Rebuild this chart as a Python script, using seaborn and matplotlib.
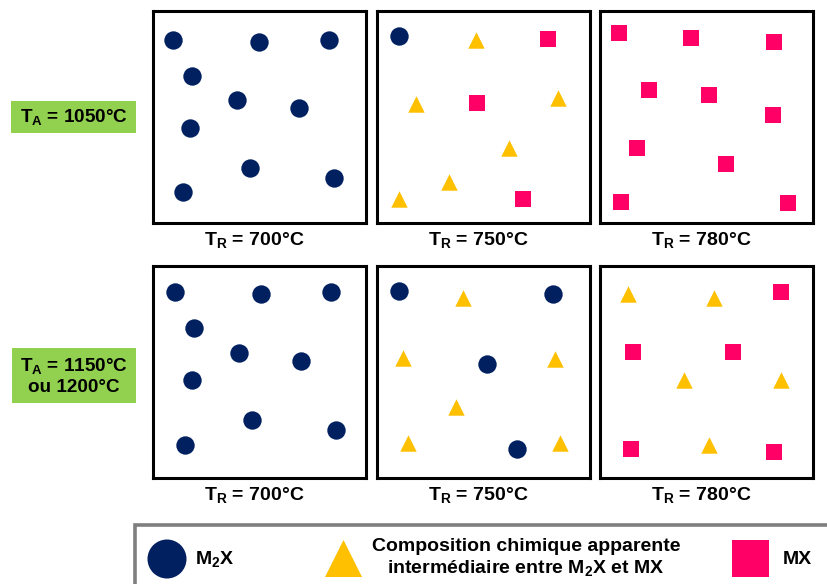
import numpy as np
import pandas as pd
import matplotlib
matplotlib.use("Agg")
import matplotlib.pyplot as plt
import matplotlib.patches as mpatches
import seaborn as sns

## data (positions in % of each panel, y measured from the top)
p1_phase = ["M2X"] * 10
p1_x = [9.2, 49.6, 82.5, 18.3, 39.3, 68.4, 17.4, 45.5, 84.8, 14.1]
p1_y = [13.7, 14.5, 13.7, 30.7, 42.0, 45.6, 55.0, 74.2, 78.8, 85.5]

p2_phase = ["M2X"] + ["INT"] * 6 + ["MX"] * 3
p2_x = [10.5, 46.3, 18.3, 85.0, 62.0, 33.8, 10.3, 80.4, 47.1, 68.7]
p2_y = [11.6, 13.7, 43.9, 41.2, 64.8, 80.8, 88.7, 13.4, 43.5, 88.7]

p3_phase = ["MX"] * 10
p3_x = [9.1, 42.9, 81.8, 23.0, 51.2, 81.4, 17.4, 59.2, 9.7, 88.3]
p3_y = [10.2, 12.6, 14.8, 37.3, 39.8, 49.2, 64.5, 72.2, 89.9, 90.4]

p4_phase = ["M2X"] * 10
p4_x = [10.2, 50.7, 83.4, 19.4, 40.4, 69.5, 18.5, 46.5, 85.9, 15.2]
p4_y = [12.4, 13.4, 12.4, 29.4, 41.2, 44.7, 53.9, 72.8, 77.5, 84.3]

p5_phase = ["M2X"] + ["INT"] * 6 + ["M2X"] * 3
p5_x = [10.3, 40.4, 12.1, 83.7, 36.9, 14.6, 85.8, 82.8, 51.8, 65.7]
p5_y = [11.8, 15.2, 43.2, 44.0, 66.4, 83.5, 83.6, 13.4, 46.1, 86.2]

p6_phase = ["INT"] * 5 + ["MX"] * 5
p6_x = [13.1, 53.5, 39.4, 84.8, 51.2, 85.0, 15.6, 62.4, 14.4, 81.8]
p6_y = [13.2, 15.0, 53.9, 53.9, 84.4, 12.3, 40.6, 40.6, 86.5, 87.7]

row_labels = ["T$_A$ = 1050°C", "T$_A$ = 1150°C\nou 1200°C"]
col_labels = ["T$_R$ = 700°C", "T$_R$ = 750°C", "T$_R$ = 780°C"]
legend_labels = ["M$_2$X",
                 "Composition chimique apparente\nintermédiaire entre M$_2$X et MX",
                 "MX"]

colors = {"M2X": "#002060", "INT": "#FFC000", "MX": "#FF0066"}
markers = {"M2X": "o", "INT": "^", "MX": "s"}
sizes = {"M2X": 175, "INT": 140, "MX": 135}

sns.set_style("white")
plt.rcParams["font.family"] = ["Liberation Sans", "DejaVu Sans"]
plt.rcParams["mathtext.default"] = "regular"
plt.rcParams["text.color"] = "black"

W, H = 828, 584
fig = plt.figure(figsize=(W / 100, H / 100), dpi=100)

# overlay in pixel coordinates for boxes / labels / legend
over = fig.add_axes([0, 0, 1, 1], zorder=0)
over.set_xlim(0, W)
over.set_ylim(H, 0)
over.axis("off")

panels = [(p1_phase, p1_x, p1_y), (p2_phase, p2_x, p2_y), (p3_phase, p3_x, p3_y),
          (p4_phase, p4_x, p4_y), (p5_phase, p5_x, p5_y), (p6_phase, p6_x, p6_y)]
col_x0 = [153, 377, 600]
row_y0 = [11, 266]
pw, ph = 213, 212

for i, (phase, xs, ys) in enumerate(panels):
    r, c = divmod(i, 3)
    x0, y0 = col_x0[c], row_y0[r]
    ax = fig.add_axes([x0 / W, 1 - (y0 + ph) / H, pw / W, ph / H], zorder=2)
    df = pd.DataFrame({"phase": phase, "x": xs, "y": ys})
    for ph_name, sub in df.groupby("phase"):
        sns.scatterplot(data=sub, x="x", y="y", ax=ax, color=colors[ph_name],
                        marker=markers[ph_name], s=sizes[ph_name], linewidth=0,
                        legend=False)
    ax.set_xlim(0, 100)
    ax.set_ylim(100, 0)
    ax.set_xticks([])
    ax.set_yticks([])
    ax.set_xlabel("")
    ax.set_ylabel("")
    for sp in ax.spines.values():
        sp.set_visible(True)
        sp.set_color("black")
        sp.set_linewidth(2.2)
    over.text(x0 + pw / 2 - 5, y0 + ph + 17, col_labels[c], ha="center", va="center",
              fontsize=14, fontweight="bold")

# green boxes
over.add_patch(mpatches.Rectangle((11, 101), 125, 32, color="#92D050", lw=0))
over.text(73.5, 117, row_labels[0], ha="center", va="center", fontsize=13.6, fontweight="bold")
over.add_patch(mpatches.Rectangle((12, 348), 124, 55, color="#92D050", lw=0))
over.text(74, 376, row_labels[1], ha="center", va="center", fontsize=13.6,
          fontweight="bold", linespacing=1.3)

# legend box
over.add_patch(mpatches.Rectangle((135.5, 525), 720, 80, facecolor="white",
                                  edgecolor="#7F7F7F", lw=2.6))
over.add_patch(mpatches.Circle((167, 559), 19.5, color=colors["M2X"], lw=0))
over.text(195, 559, legend_labels[0], ha="left", va="center", fontsize=14, fontweight="bold")
over.add_patch(mpatches.Polygon([(325, 577), (362, 577), (343.5, 540)], closed=True,
                                color=colors["INT"], lw=0))
over.text(526, 558, legend_labels[1], ha="center", va="center", fontsize=14,
          fontweight="bold", linespacing=1.15)
over.add_patch(mpatches.Rectangle((732, 540), 37, 37, color=colors["MX"], lw=0))
over.text(783, 559, legend_labels[2], ha="left", va="center", fontsize=14, fontweight="bold")

fig.savefig("out.png", dpi=100)
